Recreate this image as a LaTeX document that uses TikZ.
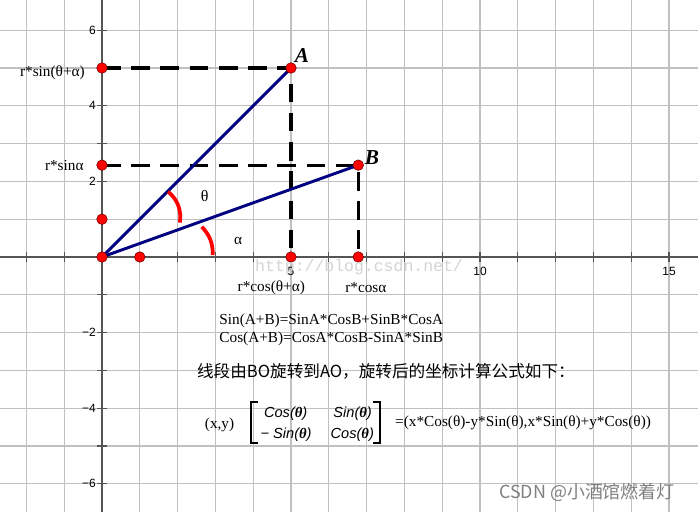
\documentclass[tikz,border=0pt]{standalone}
\usepackage{fontspec}
\setmainfont{Liberation Serif}
\setsansfont{Liberation Sans}
\setmonofont{Liberation Mono}
\newfontfamily\cjk{Noto Sans CJK SC}
\definecolor{segblue}{HTML}{000080}
\definecolor{gridgray}{HTML}{C0C0C0}
\definecolor{axisgray}{HTML}{555555}
\definecolor{markgray}{HTML}{D4D4D4}
\newcommand{\bth}{{\rmfamily\bfseries\itshape θ}}

\begin{document}
\begin{tikzpicture}[
  gridline/.style={gridgray, line width=0.8pt},
  axisline/.style={axisgray, line width=1pt},
  segline/.style={segblue, line width=2.2pt},
  projline/.style={black, line width=2.3pt, dash pattern=on 14pt off 8pt},
  angarc/.style={red, line width=2.8pt},
  rpt/.style={circle, fill=red, draw=black!60!red, line width=0.4pt, inner sep=0pt, minimum size=0.28cm},
  txt/.style={font=\fontsize{11.5}{13}\selectfont, inner sep=0pt},
  ticklab/.style={font=\sffamily\fontsize{9}{10}\selectfont, inner sep=0pt},
  ptlab/.style={font=\fontsize{16}{18}\selectfont\bfseries\itshape, inner sep=0pt},
  entry/.style={font=\sffamily\itshape\fontsize{11}{13}\selectfont, inner sep=0pt},
]
\useasboundingbox (-2.698,-6.746) rectangle (15.767,6.799);
\fill [white] (-2.698,-6.746) rectangle (15.767,6.799);

% grid and axes
\foreach \x in {-2,...,15} \draw [gridline] (\x,-6.746) -- (\x,6.799);
\foreach \y in {-6,...,6} \draw [gridline] (-2.698,\y) -- (15.767,\y);
\draw [axisline] (-2.698,0) -- (15.767,0);
\draw [axisline] (0,-6.746) -- (0,6.799);
\foreach \x in {-2,...,15} \draw [axisline] (\x,-0.12) -- (\x,0.12);
\foreach \y in {-6,...,6} \draw [axisline] (-0.12,\y) -- (0.12,\y);
\foreach \x in {5,10,15} \node [ticklab] (tx\x) at (\x,-0.37) {\x};
\foreach \y/\t in {6/6,4/4,2/2,-2/−2,-4/−4,-6/−6}
  \node [ticklab, anchor=east] (ty\y) at (-0.16,\y) {\t};

% points
\coordinate (O) at (0,0);
\coordinate (A) at (5,5);
\coordinate (B) at (6.78,2.43);
\coordinate (Ay) at (0,5);
\coordinate (Ax) at (5,0);
\coordinate (By) at (0,2.43);
\coordinate (Bx) at (6.78,0);
\coordinate (Y1) at (0,1);
\coordinate (X1) at (1,0);

\draw [projline] (Ay) -- (A) -- (Ax);
\draw [projline] (By) -- (B) -- (Bx);
\draw [segline] (O) -- (A);
\draw [segline] (O) -- (B);
\draw [angarc] (1.75,1.73) to [bend left=28] (2.06,0.91);
\draw [angarc] (2.64,0.80) to [bend left=22] (2.93,0.05);

\foreach \p in {O,A,B,Ay,Ax,By,Bx,Y1,X1} \node [rpt] (d\p) at (\p) {};

% labels
\node [ptlab] (labA) at (5.29,5.32) {A};
\node [ptlab] (labB) at (7.14,2.62) {B};
\node [txt, font=\fontsize{12}{14}\selectfont] (labth) at (2.72,1.61) {θ};
\node [txt] (labal) at (3.60,0.42) {α};
\node [txt, anchor=east] (lsy1) at (-0.45,4.87) {r*sin(θ+α)};
\node [txt, anchor=east] (lsy2) at (-0.48,2.41) {r*sinα};
\node [txt] (lcx1) at (4.48,-0.82) {r*cos(θ+α)};
\node [txt] (lcx2) at (6.98,-0.82) {r*cosα};

% formulas
\node [txt, anchor=west] (fsin) at (3.10,-1.69) {Sin(A+B)=SinA*CosB+SinB*CosA};
\node [txt, anchor=west] (fcos) at (3.10,-2.17) {Cos(A+B)=CosA*CosB-SinA*SinB};
\node [txt, anchor=west, font=\cjk\fontsize{12.5}{14}\selectfont] (note) at (2.51,-3.02)
  {线段由BO旋转到AO，旋转后的坐标计算公式如下：};
\node [txt] (xy) at (3.11,-4.44) {(x,y)};
\draw [line width=1.8pt] (4.12,-3.84) -- (3.94,-3.84) -- (3.94,-4.92) -- (4.12,-4.92);
\draw [line width=1.8pt] (7.17,-3.84) -- (7.35,-3.84) -- (7.35,-4.92) -- (7.17,-4.92);
\node [entry] (m11) at (4.86,-4.15) {Cos(\bth)};
\node [entry] (m12) at (6.63,-4.15) {Sin(\bth)};
\node [entry] (m21) at (4.87,-4.71) {− Sin(\bth)};
\node [entry] (m22) at (6.62,-4.71) {Cos(\bth)};
\node [txt, anchor=west] (res) at (7.75,-4.39) {=(x*Cos(θ)-y*Sin(θ),x*Sin(θ)+y*Cos(θ))};

% watermarks
\node [markgray, font=\ttfamily\fontsize{12.4}{14}\selectfont, inner sep=0pt] (wm1) at (6.80,-0.26) {http://blog.csdn.net/};
\node [gray, font=\cjk\fontsize{13.5}{15}\selectfont, inner sep=0pt] (wm2) at (12.83,-6.22) {CSDN @小酒馆燃着灯};
\end{tikzpicture}
\end{document}
